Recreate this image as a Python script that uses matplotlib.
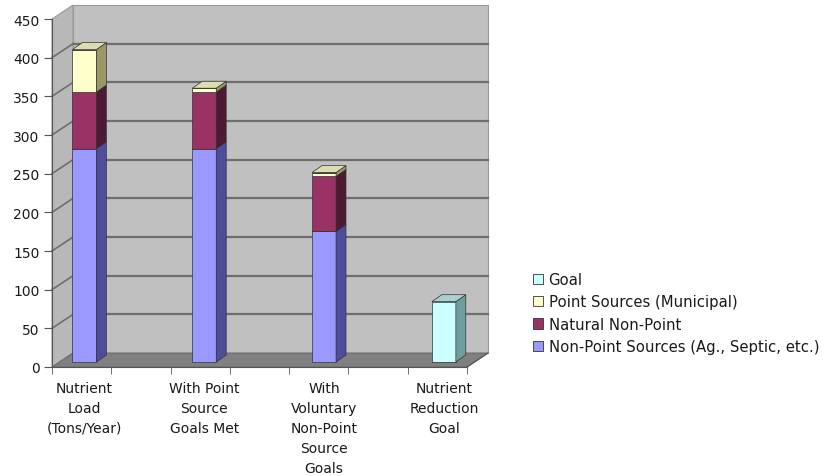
import numpy as np
import matplotlib.pyplot as plt
from matplotlib.patches import Polygon, Patch

# categorias e valores (toneladas/ano)
categorias = ["Nutrient\nLoad\n(Tons/Year)",
              "With Point\nSource\nGoals Met",
              "With\nVoluntary\nNon-Point\nSource\nGoals",
              "Nutrient\nReduction\nGoal"]

non_point = [276, 276, 169, 0]     # Non-Point Sources (Ag., Septic, etc.)
natural = [73, 73, 71, 0]          # Natural Non-Point
point_src = [55, 5, 5, 0]          # Point Sources (Municipal)
goal = [0, 0, 0, 78]               # Goal

nomes = ["Non-Point Sources (Ag., Septic, etc.)", "Natural Non-Point",
         "Point Sources (Municipal)", "Goal"]
series = [non_point, natural, point_src, goal]

# cores: frente, lado, topo
cores = [("#9999ff", "#4d4d99", "#7a7acc"),
         ("#993366", "#4d1a33", "#7a2952"),
         ("#ffffcc", "#999966", "#dcdcb0"),
         ("#ccffff", "#6f9c9c", "#a8d0d0")]

yticks = np.arange(0, 451, 50)

fig = plt.figure(figsize=(8.25, 4.77), dpi=100)
ax = fig.add_axes([52 / 825, 1 - 368 / 477, 415 / 825, 348 / 477])

x = np.arange(len(categorias))
x0, x1 = -0.271, 3.193
ymax = 450
DX, DY = 0.175, 18.0       # profundidade das paredes
bdx, bdy = 0.083, 9.0      # profundidade das barras
lift = 6.5                 # barras um pouco atras da frente
w = 0.2

ax.set_xlim(x0, x1)
ax.set_ylim(0, ymax)

# paredes e chao
parede = "#c0c0c0"
ax.add_patch(Polygon([(x0 + DX, DY), (x1 + DX, DY), (x1 + DX, ymax + DY), (x0 + DX, ymax + DY)],
                     closed=True, fc=parede, ec="#9a9a9a", lw=0.8, clip_on=False, zorder=0))
ax.add_patch(Polygon([(x0, 0), (x0 + DX, DY), (x0 + DX, ymax + DY), (x0, ymax)],
                     closed=True, fc="#b8b8b8", ec="#9a9a9a", lw=0.8, clip_on=False, zorder=0))
ax.add_patch(Polygon([(x0, 0), (x1, 0), (x1 + DX, DY), (x0 + DX, DY)],
                     closed=True, fc="#808080", ec="#6a6a6a", lw=0.8, clip_on=False, zorder=1))

for v in yticks[1:-1]:
    ax.plot([x0 + DX, x1 + DX], [v + DY, v + DY], color="#6e6e6e", lw=1.6,
            clip_on=False, zorder=0.5)
    ax.plot([x0, x0 + DX], [v, v + DY], color="#6e6e6e", lw=1.2,
            clip_on=False, zorder=0.5)

# barras empilhadas com faces laterais e de topo
base = np.zeros(len(x)) + lift
for vals, (frente, lado, topo) in zip(series, cores):
    vals = np.array(vals, dtype=float)
    ax.bar(x, vals, bottom=base, width=w, color=frente, edgecolor="#333333",
           linewidth=0.5, zorder=3)
    for xi, b, v in zip(x, base, vals):
        if v <= 0:
            continue
        xr = xi + w / 2
        ax.add_patch(Polygon([(xr, b), (xr + bdx, b + bdy), (xr + bdx, b + v + bdy), (xr, b + v)],
                             closed=True, fc=lado, ec="#333333", lw=0.5, zorder=3, clip_on=False))
        xl = xi - w / 2
        ax.add_patch(Polygon([(xl, b + v), (xr, b + v), (xr + bdx, b + v + bdy), (xl + bdx, b + v + bdy)],
                             closed=True, fc=topo, ec="#333333", lw=0.5, zorder=3, clip_on=False))
    base = base + vals

# eixos
for s in ["top", "right"]:
    ax.spines[s].set_visible(False)
ax.spines["left"].set_color("#555555")
ax.spines["bottom"].set_color("#555555")
ax.plot([x1, x1 + DX], [0, DY], color="#555555", lw=0.8, clip_on=False, zorder=2)

ax.set_yticks(yticks)
ax.tick_params(axis="y", direction="out", length=6, color="#555555", labelsize=10,
               labelcolor="#1a1a1a", pad=3)
ax.set_xticks(x)
ax.set_xticklabels(categorias, fontsize=10, color="#1a1a1a", linespacing=1.55, va="top")
ax.set_xticks(np.linspace(x0, x1, 8), minor=True)
ax.tick_params(axis="x", which="major", length=0, pad=10)
ax.tick_params(axis="x", which="minor", direction="out", length=5, color="#555555")
ax.set_facecolor("none")

# legenda
handles = [Patch(facecolor=c[0], edgecolor="#333333", linewidth=0.6) for c in cores]
fig.legend(handles[::-1], nomes[::-1], loc="upper left",
           bbox_to_anchor=(527 / 825, 1 - 267 / 477), frameon=False, fontsize=10.7,
           handlelength=0.7, handleheight=0.7, handletextpad=0.35,
           labelspacing=0.5, borderaxespad=0, labelcolor="#1a1a1a")

fig.savefig("out.png", dpi=100)
